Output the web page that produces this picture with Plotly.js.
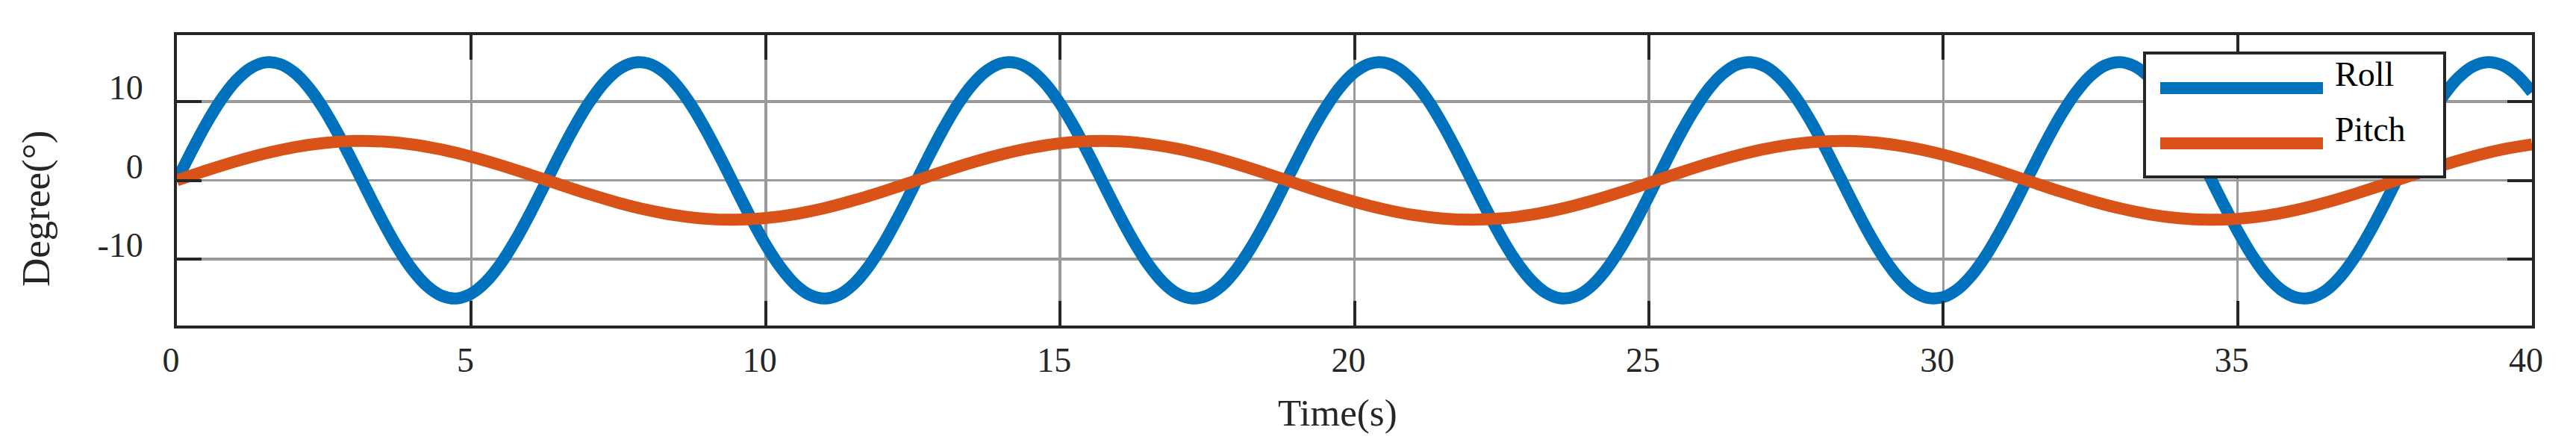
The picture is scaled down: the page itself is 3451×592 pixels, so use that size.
<!DOCTYPE html>
<html>
<head>
<meta charset="utf-8">
<script src="https://cdn.plot.ly/plotly-3.0.1.min.js"></script>
<style>
  html, body { margin: 0; padding: 0; background: #fff; }
  #chart { width: 3451px; height: 592px; }
</style>
</head>
<body>
<div id="chart"></div>
<script>
// Time samples (s) for the Roll curve
const rollTime = [
  0, 0.25, 0.5, 0.75, 1, 1.25, 1.5, 1.75, 2, 2.25, 2.5, 2.75, 3, 3.25, 3.5, 3.75, 4, 4.25, 4.5, 4.75,
  5, 5.25, 5.5, 5.75, 6, 6.25, 6.5, 6.75, 7, 7.25, 7.5, 7.75, 8, 8.25, 8.5, 8.75, 9, 9.25, 9.5, 9.75,
  10, 10.25, 10.5, 10.75, 11, 11.25, 11.5, 11.75, 12, 12.25, 12.5, 12.75, 13, 13.25, 13.5, 13.75, 14, 14.25, 14.5, 14.75,
  15, 15.25, 15.5, 15.75, 16, 16.25, 16.5, 16.75, 17, 17.25, 17.5, 17.75, 18, 18.25, 18.5, 18.75, 19, 19.25, 19.5, 19.75,
  20, 20.25, 20.5, 20.75, 21, 21.25, 21.5, 21.75, 22, 22.25, 22.5, 22.75, 23, 23.25, 23.5, 23.75, 24, 24.25, 24.5, 24.75,
  25, 25.25, 25.5, 25.75, 26, 26.25, 26.5, 26.75, 27, 27.25, 27.5, 27.75, 28, 28.25, 28.5, 28.75, 29, 29.25, 29.5, 29.75,
  30, 30.25, 30.5, 30.75, 31, 31.25, 31.5, 31.75, 32, 32.25, 32.5, 32.75, 33, 33.25, 33.5, 33.75, 34, 34.25, 34.5, 34.75,
  35, 35.25, 35.5, 35.75, 36, 36.25, 36.5, 36.75, 37, 37.25, 37.5, 37.75, 38, 38.25, 38.5, 38.75, 39, 39.25, 39.5, 39.75,
  40
];
// Roll angle (deg)
const rollDeg = [
  0, 3.71, 7.19, 10.22, 12.62, 14.23, 14.96, 14.76, 13.64, 11.67, 8.98, 5.72, 2.12, -1.62, -5.26, -8.57, -11.35, -13.42, -14.66, -14.99,
  -14.38, -12.88, -10.58, -7.62, -4.19, -0.50, 3.23, 6.75, 9.85, 12.34, 14.07, 14.92, 14.84, 13.84, 11.98, 9.37, 6.18, 2.61, -1.13, -4.79,
  -8.16, -11.02, -13.20, -14.55, -15.00, -14.52, -13.13, -10.93, -8.05, -4.67, -0.99, 2.74, 6.30, 9.48, 12.06, 13.89, 14.86, 14.90, 14.02, 12.27,
  9.75, 6.63, 3.10, -0.63, -4.32, -7.74, -10.68, -12.95, -14.42, -14.99, -14.63, -13.37, -11.26, -8.46, -5.14, -1.49, 2.25, 5.85, 9.08, 11.76,
  13.69, 14.78, 14.95, 14.19, 12.55, 10.13, 7.07, 3.58, -0.13, -3.84, -7.31, -10.32, -12.69, -14.27, -14.97, -14.74, -13.58, -11.59, -8.87, -5.60,
  -1.99, 1.75, 5.39, 8.68, 11.44, 13.48, 14.69, 14.98, 14.35, 12.81, 10.49, 7.51, 4.06, 0.36, -3.36, -6.87, -9.95, -12.42, -14.12, -14.93,
  -14.82, -13.79, -11.90, -9.27, -6.06, -2.48, 1.26, 4.92, 8.27, 11.11, 13.26, 14.58, 15.00, 14.49, 13.07, 10.84, 7.94, 4.54, 0.86, -2.87,
  -6.42, -9.57, -12.14, -13.94, -14.88, -14.89, -13.98, -12.19, -9.66, -6.51, -2.97, 0.76, 4.45, 7.85, 10.77, 13.02, 14.46, 15.00, 14.60, 13.30,
  11.18
];
// Time samples (s) for the Pitch curve
const pitchTime = [
  0, 0.5, 1, 1.5, 2, 2.5, 3, 3.5, 4, 4.5, 5, 5.5, 6, 6.5, 7, 7.5, 8, 8.5, 9, 9.5,
  10, 10.5, 11, 11.5, 12, 12.5, 13, 13.5, 14, 14.5, 15, 15.5, 16, 16.5, 17, 17.5, 18, 18.5, 19, 19.5,
  20, 20.5, 21, 21.5, 22, 22.5, 23, 23.5, 24, 24.5, 25, 25.5, 26, 26.5, 27, 27.5, 28, 28.5, 29, 29.5,
  30, 30.5, 31, 31.5, 32, 32.5, 33, 33.5, 34, 34.5, 35, 35.5, 36, 36.5, 37, 37.5, 38, 38.5, 39, 39.5, 40
];
// Pitch angle (deg)
const pitchDeg = [
  0, 1.24, 2.40, 3.41, 4.21, 4.74, 4.99, 4.92, 4.55, 3.89, 2.99, 1.91, 0.71, -0.54, -1.75, -2.86, -3.78, -4.47, -4.89, -5.00,
  -4.79, -4.29, -3.53, -2.54, -1.40, -0.17, 1.08, 2.25, 3.28, 4.11, 4.69, 4.97, 4.95, 4.61, 3.99, 3.12, 2.06, 0.87, -0.38, -1.60,
  -2.72, -3.67, -4.40, -4.85, -5.00, -4.84, -4.38, -3.64, -2.68, -1.56, -0.33, 0.91, 2.10, 3.16, 4.02, 4.63, 4.95, 4.97, 4.67, 4.09,
  3.25, 2.21, 1.03, -0.21, -1.44, -2.58, -3.56, -4.32, -4.81, -5.00, -4.89, -4.46, -3.75, -2.82, -1.71, -0.50, 0.75, 1.95, 3.03, 3.92, 4.56
];
const seriesNames = ['Roll', 'Pitch'];
const seriesColors = ['#0072BD', '#D95319'];
const xTickVals = [0, 5, 10, 15, 20, 25, 30, 35, 40];
const xTickText = ['0', '5', '10', '15', '20', '25', '30', '35', '40'];
const yTickVals = [-10, 0, 10];
const yTickText = ['-10', '0', '10'];
const xTitle = 'Time(s)';
const yTitle = 'Degree(°)';

const FONT = '"Liberation Serif", "Times New Roman", serif';
const AXIS = '#262626';
const W = 3451, H = 592, L = 237, R = 59, T = 47, B = 156;
const PW = W - L - R, PH = H - T - B;
// pixel position -> paper fraction (for legend box and titles)
const px = v => (v - L) / PW;
const py = v => (H - B - v) / PH;

const traces = [
  { x: rollTime, y: rollDeg, name: seriesNames[0], type: 'scatter', mode: 'lines',
    line: { color: seriesColors[0], width: 16, shape: 'spline' } },
  { x: pitchTime, y: pitchDeg, name: seriesNames[1], type: 'scatter', mode: 'lines',
    line: { color: seriesColors[1], width: 16, shape: 'spline' } }
];

// legend drawn as a boxed key (MATLAB style)
const legendRows = [118, 192];
const shapes = [
  { type: 'rect', xref: 'paper', yref: 'paper', x0: px(2873), x1: px(3275), y0: py(71), y1: py(237),
    line: { color: AXIS, width: 4 }, fillcolor: '#fff', layer: 'above' }
];
const annotations = [];
seriesNames.forEach((n, i) => {
  shapes.push({ type: 'line', xref: 'paper', yref: 'paper', x0: px(2894), x1: px(3112),
    y0: py(legendRows[i]), y1: py(legendRows[i]), line: { color: seriesColors[i], width: 16 }, layer: 'above' });
  annotations.push({ text: n, xref: 'paper', yref: 'paper', x: px(3126), y: py(legendRows[i] - 19),
    xanchor: 'left', yanchor: 'middle', showarrow: false, font: { family: FONT, size: 46, color: '#000' } });
});
annotations.push({ text: xTitle, xref: 'paper', yref: 'paper', x: px(1792), y: py(553), xanchor: 'center', yanchor: 'middle',
  showarrow: false, font: { family: FONT, size: 51, color: AXIS } });
annotations.push({ text: yTitle, xref: 'paper', yref: 'paper', x: px(48), y: py(279), xanchor: 'center', yanchor: 'middle',
  textangle: -90, showarrow: false, font: { family: FONT, size: 53, color: AXIS } });

const layout = {
  width: W, height: H, paper_bgcolor: '#fff', plot_bgcolor: '#fff',
  margin: { l: L, r: R, t: T, b: B }, showlegend: false,
  font: { family: FONT, color: AXIS, size: 46 },
  xaxis: {
    range: [0, 40], tickvals: xTickVals, ticktext: xTickText,
    showline: true, linecolor: AXIS, linewidth: 4, mirror: 'ticks',
    ticks: 'inside', ticklen: 33, tickwidth: 4, tickcolor: AXIS,
    showgrid: true, gridcolor: '#9a9a9a', gridwidth: 3.5, zeroline: false,
    tickfont: { family: FONT, size: 46, color: AXIS }, ticklabelstandoff: 3, ticklabelshift: -8
  },
  yaxis: {
    range: [-18.43, 18.43], tickvals: yTickVals, ticktext: yTickText,
    showline: true, linecolor: AXIS, linewidth: 4, mirror: 'ticks',
    ticks: 'inside', ticklen: 33, tickwidth: 4, tickcolor: AXIS,
    showgrid: true, gridcolor: '#9a9a9a', gridwidth: 3.5, zeroline: false,
    tickfont: { family: FONT, size: 46, color: AXIS }, ticklabelstandoff: 32, ticklabelshift: -19
  },
  shapes: shapes,
  annotations: annotations
};

Plotly.newPlot('chart', traces, layout, { staticPlot: true, displayModeBar: false });
</script>
</body>
</html>
